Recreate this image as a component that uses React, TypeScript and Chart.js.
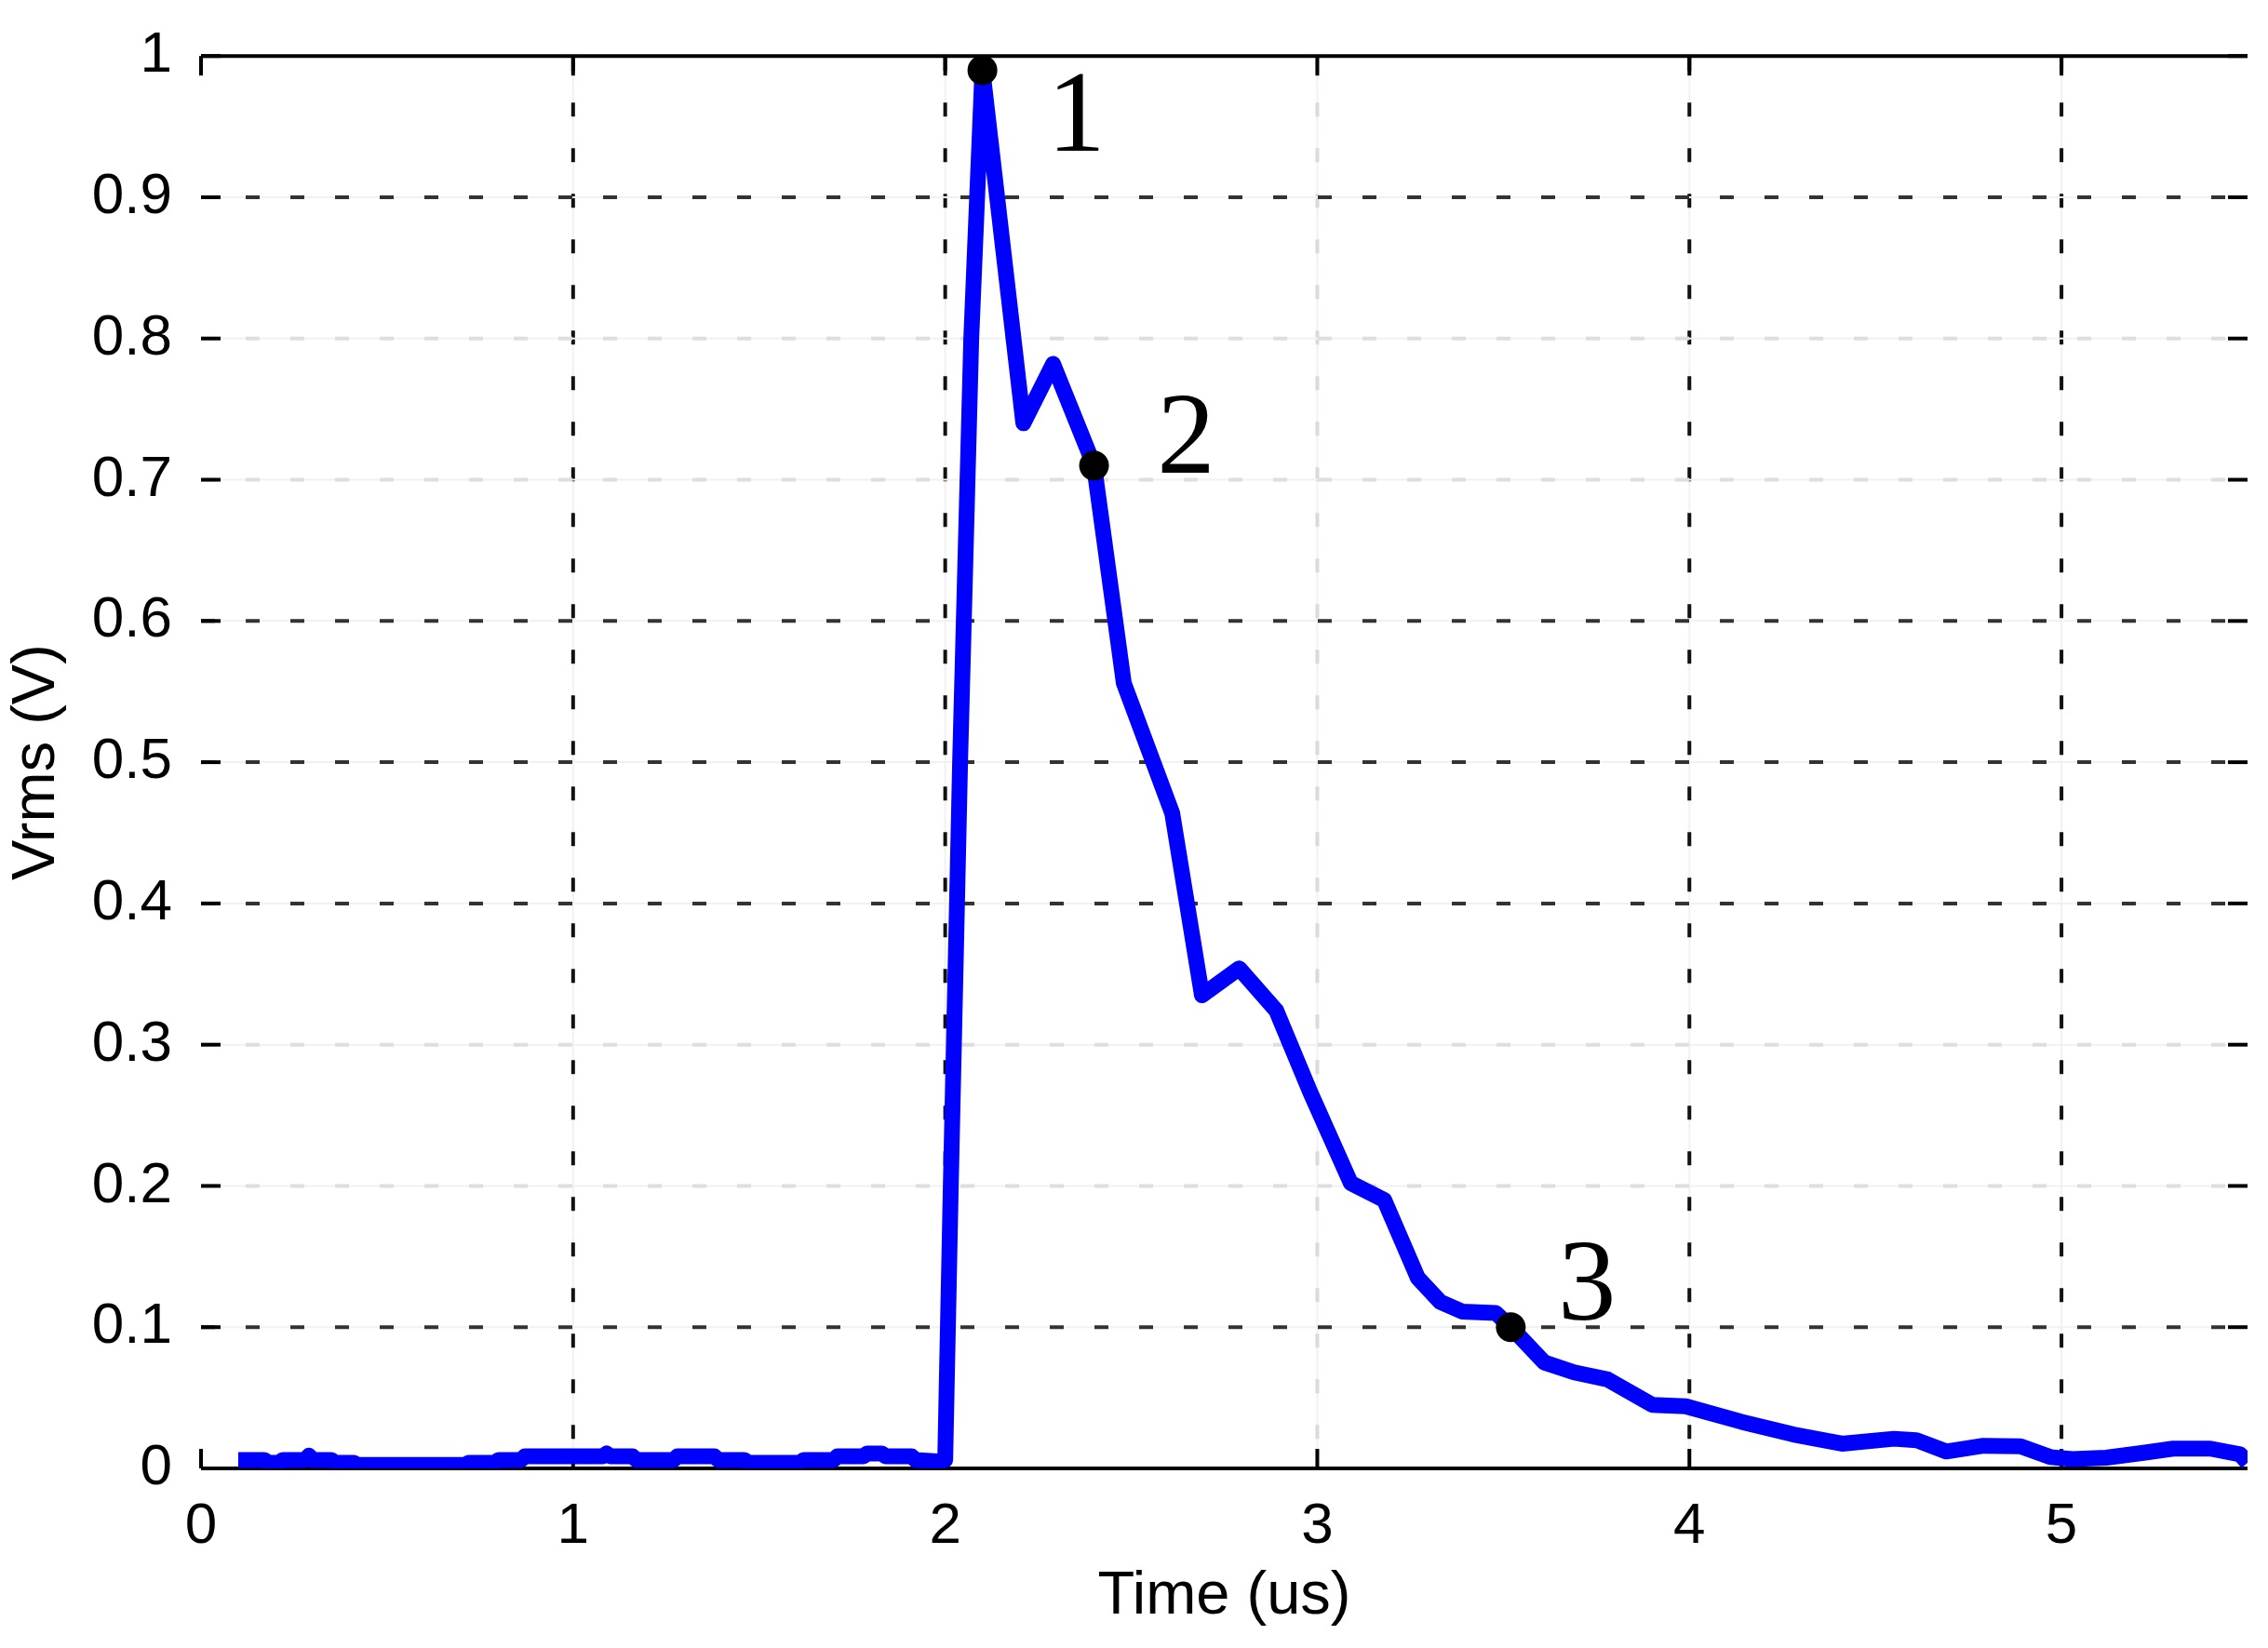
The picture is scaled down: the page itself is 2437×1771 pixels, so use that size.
import { Chart, registerables } from "chart.js";
import type { Plugin } from "chart.js";
import { useEffect, useRef } from "react";

Chart.register(...registerables);

// waveform
const timeUs = [
  0.1, 0.17, 0.18, 0.21, 0.22, 0.28, 0.29, 0.3, 0.35, 0.36, 0.41, 0.42, 0.71,
  0.72, 0.79, 0.8, 0.86, 0.87, 1.08, 1.09, 1.1, 1.16, 1.17, 1.27, 1.28, 1.38,
  1.39, 1.46, 1.47, 1.61, 1.62, 1.7, 1.71, 1.78, 1.79, 1.83, 1.84, 1.91, 1.92,
  1.98, 2.0, 2.015, 2.04, 2.07, 2.1, 2.21, 2.29, 2.4, 2.48, 2.61, 2.69, 2.79,
  2.89, 2.98, 3.09, 3.18, 3.27, 3.33, 3.39, 3.48, 3.52, 3.61, 3.69, 3.78, 3.9,
  3.99, 4.14, 4.28, 4.41, 4.55, 4.61, 4.69, 4.79, 4.89, 4.97, 5.03, 5.12, 5.22,
  5.3, 5.4, 5.48, 5.5,
];
const vrms = [
  0.006, 0.006, 0.004, 0.004, 0.006, 0.006, 0.009, 0.006, 0.006, 0.004, 0.004,
  0.0025, 0.0025, 0.004, 0.004, 0.006, 0.006, 0.0085, 0.0085, 0.0105, 0.0085,
  0.0085, 0.006, 0.006, 0.0085, 0.0085, 0.006, 0.006, 0.004, 0.004, 0.006,
  0.006, 0.0085, 0.0085, 0.0105, 0.0105, 0.0085, 0.0085, 0.006, 0.005, 0.006,
  0.2, 0.5, 0.8, 0.99, 0.74, 0.782, 0.71, 0.556, 0.464, 0.335, 0.354, 0.324,
  0.267, 0.202, 0.19, 0.135, 0.118, 0.111, 0.11, 0.1, 0.075, 0.068, 0.063,
  0.045, 0.044, 0.033, 0.024, 0.0175, 0.021, 0.02, 0.012, 0.016, 0.0156, 0.008,
  0.0066, 0.0076, 0.011, 0.014, 0.014, 0.01, 0.004,
];

const markerTime = [2.1, 2.4, 3.52];
const markerVrms = [0.99, 0.71, 0.1];
const markerLabels = ["1", "2", "3"];

const xTicks = [0, 1, 2, 3, 4, 5];
const yTicks = [0, 0.1, 0.2, 0.3, 0.4, 0.5, 0.6, 0.7, 0.8, 0.9, 1];

// grid lines that came out pale in the original print
const paleX = [3];
const paleY = [0.2, 0.3, 0.7, 0.8];

const W = 2437;
const H = 1771;
const sans = "'Liberation Sans', Arial, sans-serif";
const serif = "'Liberation Serif', 'Times New Roman', serif";

const frame: Plugin = {
  id: "frame",
  beforeDatasetsDraw(chart) {
    const { ctx, chartArea: a, scales } = chart;
    const xs = scales.x;
    const ys = scales.y;
    ctx.save();

    const line = (x1: number, y1: number, x2: number, y2: number) => {
      ctx.beginPath();
      ctx.moveTo(x1, y1);
      ctx.lineTo(x2, y2);
      ctx.stroke();
    };

    // vertical grid
    xTicks.forEach((v) => {
      if (v === 0) return;
      const px = xs.getPixelForValue(v);
      const pale = paleX.includes(v);
      ctx.setLineDash([]);
      ctx.lineWidth = 2;
      ctx.strokeStyle = "#f1f1f1";
      line(px, a.top, px, a.bottom);
      ctx.setLineDash([15, 34]);
      ctx.lineDashOffset = -50;
      ctx.lineWidth = 4;
      ctx.strokeStyle = pale ? "#dadada" : "#111";
      line(px, a.top, px, a.bottom);
    });

    // horizontal grid
    yTicks.forEach((v) => {
      if (v === 0 || v === 1) return;
      const py = ys.getPixelForValue(v);
      const pale = paleY.includes(v);
      ctx.setLineDash([]);
      ctx.lineWidth = 2;
      ctx.strokeStyle = "#f1f1f1";
      line(a.left, py, a.right, py);
      ctx.setLineDash([15, 33]);
      ctx.lineDashOffset = 0;
      ctx.lineWidth = 4;
      ctx.strokeStyle = pale ? "#dedede" : "#333";
      line(a.left, py, a.right, py);
    });

    // box top / bottom and inward ticks
    ctx.setLineDash([]);
    ctx.strokeStyle = "#000";
    ctx.lineWidth = 4;
    line(a.left, a.top, a.right, a.top);
    line(a.left, a.bottom, a.right, a.bottom);
    const tl = 21;
    yTicks.forEach((v) => {
      const py = ys.getPixelForValue(v);
      line(a.left, py, a.left + tl, py);
      line(a.right - tl, py, a.right, py);
    });
    xTicks.forEach((v) => {
      const px = xs.getPixelForValue(v);
      line(px, a.top, px, a.top + tl);
      line(px, a.bottom, px, a.bottom - tl);
    });
    ctx.restore();
  },
  afterDatasetsDraw(chart) {
    const { ctx, scales } = chart;
    const offsets = [
      [101, 45],
      [99, -34],
      [82, -50],
    ];
    ctx.save();
    ctx.fillStyle = "#000";
    ctx.font = `125px ${serif}`;
    ctx.textAlign = "center";
    ctx.textBaseline = "alphabetic";
    markerLabels.forEach((t, i) => {
      const px = scales.x.getPixelForValue(markerTime[i]) + offsets[i][0];
      const py = scales.y.getPixelForValue(markerVrms[i]) + offsets[i][1];
      ctx.fillText(t, px, py + 42);
    });
    ctx.restore();
  },
};

const App = () => {
  const canvasRef = useRef<HTMLCanvasElement>(null);

  useEffect(() => {
    const ctx = canvasRef.current?.getContext("2d");
    if (!ctx) {
      return;
    }

    Chart.defaults.color = "#000";

    const chart = new Chart(ctx, {
      type: "scatter",
      data: {
        datasets: [
          {
            label: "points",
            data: markerTime.map((t, i) => ({ x: t, y: markerVrms[i] })),
            pointRadius: 16,
            pointBackgroundColor: "#000",
            pointBorderWidth: 0,
            showLine: false,
          },
          {
            label: "Vrms",
            data: timeUs.map((t, i) => ({ x: t, y: vrms[i] })),
            showLine: true,
            borderColor: "#0000ff",
            borderWidth: 17,
            borderJoinStyle: "round",
            pointRadius: 0,
            tension: 0,
          },
        ],
      },
      options: {
        animation: false,
        responsive: false,
        devicePixelRatio: 1,
        layout: { padding: { top: 39, right: 22, left: 0, bottom: 0 } },
        plugins: {
          legend: { display: false },
          tooltip: { enabled: false },
        },
        scales: {
          x: {
            type: "linear",
            min: 0,
            max: 5.5,
            grid: { display: false },
            border: { display: false },
            afterBuildTicks: (s) => {
              s.ticks = xTicks.map((v) => ({ value: v }));
            },
            afterFit: (s) => {
              s.height = 193;
            },
            ticks: {
              padding: 18,
              font: { family: sans, size: 62 },
              color: "#000",
              callback: (v) => String(v),
            },
            title: {
              display: true,
              text: "Time (us)",
              font: { family: sans, size: 65 },
              color: "#000",
              padding: { top: 0, bottom: 16 },
            },
          },
          y: {
            type: "linear",
            min: 0,
            max: 1,
            grid: { display: false },
            border: { display: false },
            afterBuildTicks: (s) => {
              s.ticks = yTicks.map((v) => ({ value: v }));
            },
            afterFit: (s) => {
              s.width = 216;
            },
            ticks: {
              padding: 23,
              font: { family: sans, size: 62 },
              color: "#000",
              callback: (v) => String(+Number(v).toFixed(1)),
            },
            title: {
              display: true,
              text: "Vrms (V)",
              font: { family: sans, size: 65 },
              color: "#000",
              padding: { top: 1, bottom: 0 },
            },
          },
        },
      },
      plugins: [frame],
    });

    return () => {
      chart.destroy();
    };
  }, []);

  return (
    <div
      style={{
        position: "fixed",
        left: 0,
        top: 0,
        width: W,
        height: H,
        background: "#fff",
      }}
    >
      <canvas ref={canvasRef} width={W} height={H} style={{ display: "block" }} />
    </div>
  );
};

export default App;
